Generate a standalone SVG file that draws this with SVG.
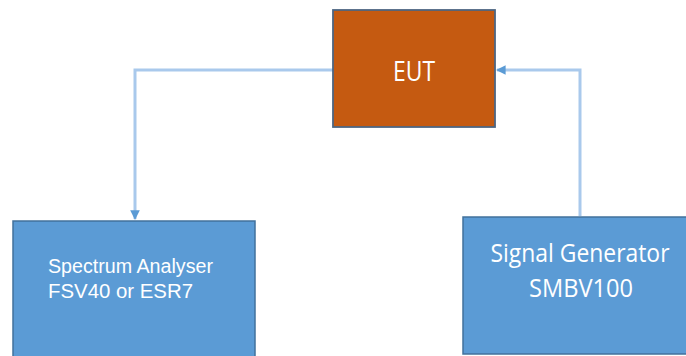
<svg xmlns="http://www.w3.org/2000/svg" width="686" height="356" viewBox="0 0 686 356">
<style>
.blue{fill:#5b9bd5;stroke:#41719c;stroke-width:1.5}
.eut{fill:#c55a11;stroke:#4d6582;stroke-width:1.8}
.conn{fill:none;stroke:#a9c9ec;stroke-width:3}
.lbl{fill:#ffffff}
.cal{font-family:"Open Sans","Noto Sans",sans-serif}
.ari{font-family:"Liberation Sans",Arial,sans-serif}
</style>
<defs>
<marker id="arr" viewBox="0 0 10 10" refX="9" refY="5" markerWidth="3.2" markerHeight="3.2" orient="auto" markerUnits="strokeWidth">
<path d="M0,0 L10,5 L0,10 z" fill="#5b9bd5"/>
</marker>
</defs>
<rect width="686" height="356" fill="#ffffff"/>
<g id="connectors">
<path class="conn" d="M333,70 L135,70 L135,219" marker-end="url(#arr)"/>
<path class="conn" d="M580,216 L580,70 L497,70" marker-end="url(#arr)"/>
</g>
<g id="eut">
<rect class="eut" x="333" y="10" width="162" height="117"/>
<text class="lbl cal" x="414" y="81" font-size="28" text-anchor="middle" textLength="42" lengthAdjust="spacingAndGlyphs">EUT</text>
</g>
<g id="spectrum">
<rect class="blue" x="13" y="221" width="242" height="140"/>
<text class="lbl ari" x="48" y="273" font-size="20" textLength="165" lengthAdjust="spacingAndGlyphs">Spectrum Analyser</text>
<text class="lbl ari" x="48" y="298" font-size="20" textLength="145" lengthAdjust="spacingAndGlyphs">FSV40 or ESR7</text>
</g>
<g id="siggen">
<rect class="blue" x="463" y="217" width="224" height="137"/>
<text class="lbl cal" x="580" y="262" font-size="26" text-anchor="middle" textLength="179" lengthAdjust="spacingAndGlyphs">Signal Generator</text>
<text class="lbl cal" x="581" y="297" font-size="26" text-anchor="middle" textLength="104" lengthAdjust="spacingAndGlyphs">SMBV100</text>
</g>
</svg>
